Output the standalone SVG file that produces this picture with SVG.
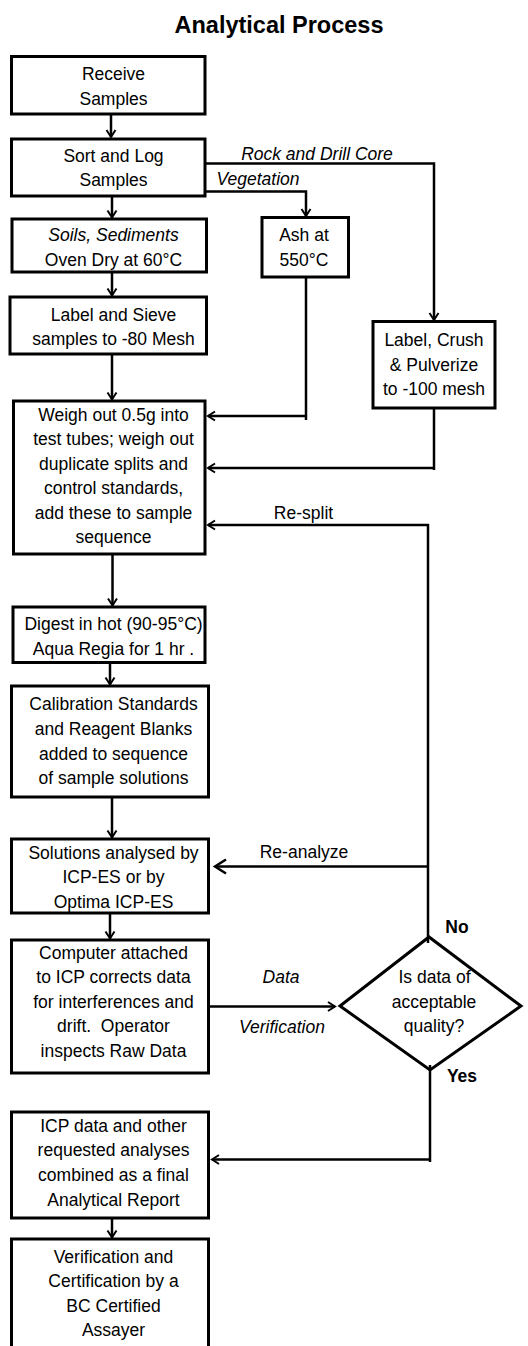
<svg xmlns="http://www.w3.org/2000/svg" width="528" height="1346" viewBox="0 0 528 1346">
<style>
.box{fill:#fff;stroke:#000;stroke-width:3}
.t{font-family:"Liberation Sans",Arial,sans-serif;font-size:17.5px;fill:#000;text-anchor:middle}
.i{font-style:italic}
.b{font-weight:bold}
.c{fill:none;stroke:#000;stroke-width:2.5}
</style>
<defs>
<marker id="ah" markerUnits="userSpaceOnUse" markerWidth="14" markerHeight="14" viewBox="-10 -7 12 14" refX="0" refY="0" orient="auto">
<path d="M-7,-4.5 L0,0 L-7,4.5" fill="none" stroke="#000" stroke-width="2"/>
</marker>
<marker id="ahL" markerUnits="userSpaceOnUse" markerWidth="20" markerHeight="20" viewBox="-16 -10 18 20" refX="0" refY="0" orient="auto">
<path d="M-11,-7 L0,0 L-11,7" fill="none" stroke="#000" stroke-width="2.5"/>
</marker>
</defs>
<rect width="528" height="1346" fill="#fff"/>
<text class="t b" x="279" y="33" style="font-size:23.5px">Analytical Process</text>

<g id="connectors">
<path class="c" d="M111,115 V137" marker-end="url(#ah)"/>
<path class="c" d="M206,163.5 H434 V320" marker-end="url(#ah)"/>
<path class="c" d="M206,191.5 H306 V216" marker-end="url(#ah)"/>
<path class="c" d="M112,197 V217.5" marker-end="url(#ah)"/>
<path class="c" d="M112,273 V295.5" marker-end="url(#ah)"/>
<path class="c" d="M306,278 V420"/>
<path class="c" d="M307,416 H208" marker-end="url(#ah)"/>
<path class="c" d="M112,355 V399.5" marker-end="url(#ah)"/>
<path class="c" d="M434,409 V470"/>
<path class="c" d="M435,468 H208" marker-end="url(#ah)"/>
<path class="c" d="M428,524 V943"/>
<path class="c" d="M429,525 H208" marker-end="url(#ah)"/>
<path class="c" d="M428,866.5 H215" marker-end="url(#ahL)"/>
<path class="c" d="M112.5,555 V605.5" marker-end="url(#ah)"/>
<path class="c" d="M110,663 V684.5" marker-end="url(#ah)"/>
<path class="c" d="M112,798 V837.5" marker-end="url(#ah)"/>
<path class="c" d="M110,914 V938.5" marker-end="url(#ah)"/>
<path class="c" d="M209,1006.5 H335" marker-end="url(#ah)"/>
<path class="c" d="M430,1065 V1162"/>
<path class="c" d="M431,1159.5 H212" marker-end="url(#ah)"/>
<path class="c" d="M112,1219 V1237.5" marker-end="url(#ah)"/>
<text class="t i" x="317" y="160">Rock and Drill Core</text>
<text class="t i" x="258" y="185">Vegetation</text>
<text class="t" x="303.5" y="519">Re-split</text>
<text class="t" x="304" y="858">Re-analyze</text>
<text class="t i" x="281" y="983">Data</text>
<text class="t i" x="282" y="1033">Verification</text>
<text class="t b" x="457" y="933">No</text>
<text class="t b" x="462" y="1082">Yes</text>
</g>

<g id="n1">
<rect class="box" x="11.5" y="56.5" width="193.5" height="57.5"/>
<text class="t" x="113.5" y="80">Receive</text>
<text class="t" x="113.5" y="104.5">Samples</text>
</g>
<g id="n2">
<rect class="box" x="11.5" y="139" width="193.5" height="57"/>
<text class="t" x="113.5" y="161.5">Sort and Log</text>
<text class="t" x="113.5" y="185.5">Samples</text>
</g>
<g id="n3">
<rect class="box" x="12" y="219" width="194.5" height="53"/>
<text class="t i" x="113.5" y="241">Soils, Sediments</text>
<text class="t" x="113.5" y="266">Oven Dry at 60°C</text>
</g>
<g id="n4">
<rect class="box" x="10" y="297" width="196.5" height="57"/>
<text class="t" x="113.5" y="320.5">Label and Sieve</text>
<text class="t" x="113.5" y="345">samples to -80 Mesh</text>
</g>
<g id="n_ash">
<rect class="box" x="262" y="217.5" width="86.5" height="59.5"/>
<text class="t" x="304" y="241">Ash at</text>
<text class="t" x="304" y="266">550°C</text>
</g>
<g id="n_crush">
<rect class="box" x="373" y="321.5" width="122" height="86.5"/>
<text class="t" x="434" y="346">Label, Crush</text>
<text class="t" x="434" y="371">&amp; Pulverize</text>
<text class="t" x="434" y="395">to -100 mesh</text>
</g>
<g id="n5">
<rect class="box" x="13.5" y="401" width="191.5" height="153"/>
<text class="t" x="113.5" y="421">Weigh out 0.5g into</text>
<text class="t" x="113.5" y="445">test tubes; weigh out</text>
<text class="t" x="113.5" y="469.5">duplicate splits and</text>
<text class="t" x="113.5" y="494">control standards,</text>
<text class="t" x="113.5" y="518.5">add these to sample</text>
<text class="t" x="113.5" y="543">sequence</text>
</g>
<g id="n6">
<rect class="box" x="13" y="607" width="192" height="55.5"/>
<text class="t" x="113.5" y="630">Digest in hot (90-95°C)</text>
<text class="t" x="113.5" y="655" xml:space="preserve">Aqua Regia for 1 hr .</text>
</g>
<g id="n7">
<rect class="box" x="11.5" y="686" width="197" height="111"/>
<text class="t" x="113.5" y="710">Calibration Standards</text>
<text class="t" x="113.5" y="735">and Reagent Blanks</text>
<text class="t" x="113.5" y="759.5">added to sequence</text>
<text class="t" x="113.5" y="784">of sample solutions</text>
</g>
<g id="n8">
<rect class="box" x="11.5" y="839" width="197" height="74"/>
<text class="t" x="113.5" y="858.5">Solutions analysed by</text>
<text class="t" x="113.5" y="883">ICP-ES or by</text>
<text class="t" x="113.5" y="907.5">Optima ICP-ES</text>
</g>
<g id="n9">
<rect class="box" x="11.5" y="940" width="197" height="133"/>
<text class="t" x="113.5" y="958.5">Computer attached</text>
<text class="t" x="113.5" y="983">to ICP corrects data</text>
<text class="t" x="113.5" y="1007.5">for interferences and</text>
<text class="t" x="113.5" y="1032" xml:space="preserve">drift.  Operator</text>
<text class="t" x="113.5" y="1056.5">inspects Raw Data</text>
</g>
<g id="n_decision">
<polygon points="340,1006 429,937 521,1006 430,1070" fill="none" stroke="#000" stroke-width="3"/>
<text class="t" x="434.5" y="983">Is data of</text>
<text class="t" x="434" y="1007.5">acceptable</text>
<text class="t" x="434" y="1032">quality?</text>
</g>
<g id="n10">
<rect class="box" x="11.5" y="1112" width="197" height="106"/>
<text class="t" x="113.5" y="1131.5">ICP data and other</text>
<text class="t" x="113.5" y="1156">requested analyses</text>
<text class="t" x="113.5" y="1181">combined as a final</text>
<text class="t" x="113.5" y="1206">Analytical Report</text>
</g>
<g id="n11">
<rect class="box" x="11.5" y="1239" width="197" height="121"/>
<text class="t" x="113.5" y="1262.5">Verification and</text>
<text class="t" x="113.5" y="1287">Certification by a</text>
<text class="t" x="113.5" y="1311.5">BC Certified</text>
<text class="t" x="113.5" y="1336">Assayer</text>
</g>
</svg>
